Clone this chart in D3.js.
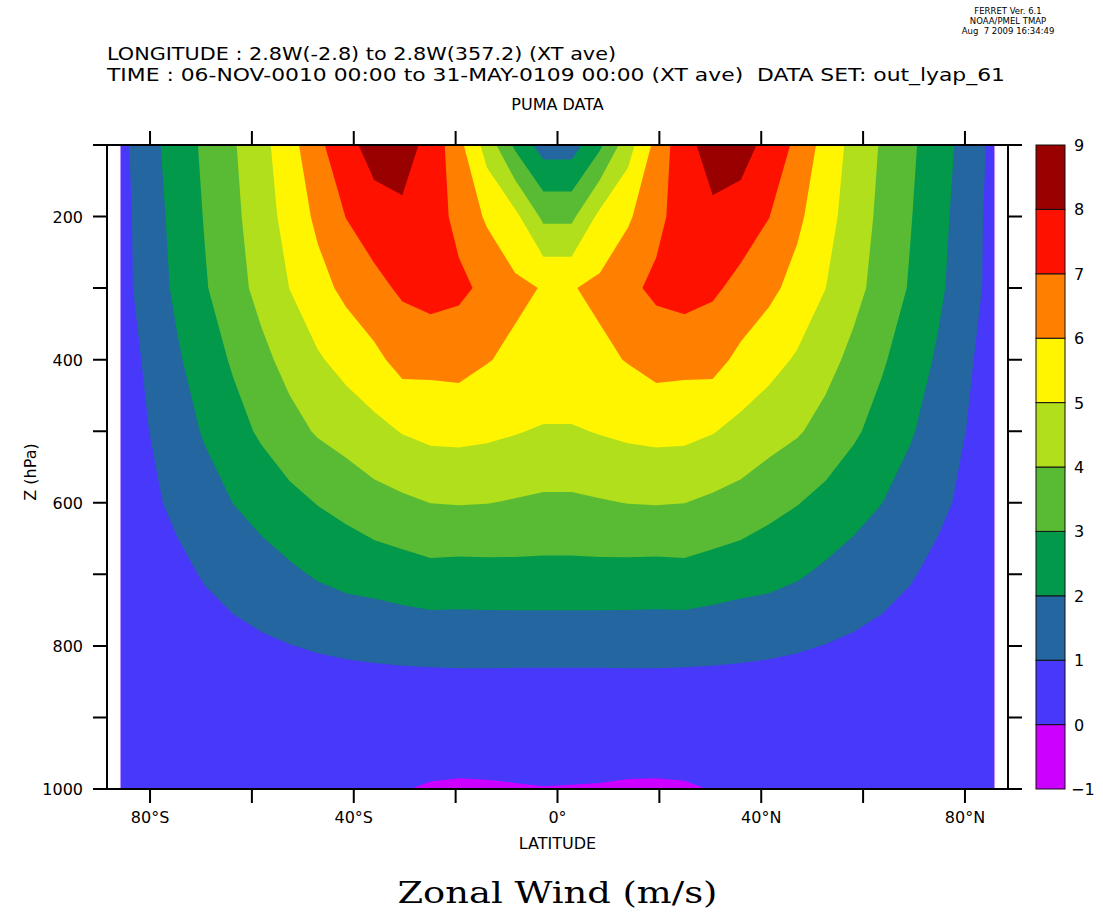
<!DOCTYPE html>
<html>
<head>
<meta charset="utf-8">
<script src="https://cdn.jsdelivr.net/npm/d3@7"></script>
<style>
  body { margin: 0; background: #fff; }
  svg { display: block; }
  text { font-family: "DejaVu Sans", sans-serif; fill: #000; }
</style>
</head>
<body>
<svg id="chart" width="1103" height="916"></svg>
<script>
// Gaussian latitudes of the model grid (south -> north)
var latitudes = [-85.76, -80.27, -74.75, -69.21, -63.68, -58.14, -52.61, -47.07,
  -41.53, -36.00, -30.46, -24.92, -19.38, -13.84, -8.31, -2.77,
  2.77, 8.31, 13.84, 19.38, 24.92, 30.46, 36.00, 41.53,
  47.07, 52.61, 58.14, 63.68, 69.21, 74.75, 80.27, 85.76];
var pressureLevels = [100, 200, 300, 400, 500, 600, 700, 800, 900, 1000];

// values along each pressure level, same order as latitudes
var u100 = [0.7, 1.7, 2.4, 3.2, 3.9, 4.7, 5.6, 6.8, 7.6, 8.5, 8.4, 7.7, 6.3, 4.6, 2.8, 1.55,
  1.55, 2.8, 4.6, 6.3, 7.7, 8.4, 8.5, 7.6, 6.8, 5.6, 4.7, 3.9, 3.2, 2.4, 1.7, 0.7];
var u200 = [0.65, 1.52, 2.32, 3.06, 3.77, 4.53, 5.36, 6.21, 7.02, 7.48, 7.83, 7.5, 6.72, 5.86, 5.25, 3.78,
  3.78, 5.25, 5.86, 6.72, 7.5, 7.83, 7.48, 7.02, 6.21, 5.36, 4.53, 3.77, 3.06, 2.32, 1.52, 0.65];
var u300 = [0.67, 1.43, 2.19, 2.92, 3.61, 4.31, 5.01, 5.66, 6.24, 6.74, 7.15, 7.4, 7.21, 6.78, 6.2, 5.95,
  5.95, 6.2, 6.78, 7.21, 7.4, 7.15, 6.74, 6.24, 5.66, 5.01, 4.31, 3.61, 2.92, 2.19, 1.43, 0.67];
var u400 = [0.5, 1.18, 1.87, 2.5, 3.12, 3.74, 4.33, 4.89, 5.33, 5.75, 6.35, 6.3, 6.35, 6.05, 5.8, 5.9,
  5.9, 5.8, 6.05, 6.35, 6.3, 6.35, 5.75, 5.33, 4.89, 4.33, 3.74, 3.12, 2.5, 1.87, 1.18, 0.5];
var u500 = [0.48, 0.99, 1.56, 2.1, 2.63, 3.15, 3.66, 4.1, 4.41, 4.72, 5.05, 5.25, 5.28, 5.2, 5.06, 4.9,
  4.9, 5.06, 5.2, 5.28, 5.25, 5.05, 4.72, 4.41, 4.1, 3.66, 3.15, 2.63, 2.1, 1.56, 0.99, 0.48];
var u600 = [0.4, 0.8, 1.2, 1.6, 2.01, 2.36, 2.71, 3.04, 3.3, 3.65, 3.83, 4.01, 4.05, 4.02, 3.93, 3.84,
  3.84, 3.93, 4.02, 4.05, 4.01, 3.83, 3.65, 3.3, 3.04, 2.71, 2.36, 2.01, 1.6, 1.2, 0.8, 0.4];
var u700 = [0.34, 0.58, 0.77, 1.08, 1.34, 1.58, 1.83, 2.1, 2.3, 2.4, 2.55, 2.7, 2.65, 2.68, 2.7, 2.7,
  2.7, 2.7, 2.68, 2.65, 2.7, 2.55, 2.4, 2.3, 2.1, 1.83, 1.58, 1.34, 1.08, 0.77, 0.58, 0.34];
var u800 = [0.25, 0.4, 0.5, 0.58, 0.73, 0.86, 0.98, 1.08, 1.16, 1.22, 1.27, 1.3, 1.32, 1.32, 1.31, 1.31,
  1.31, 1.31, 1.32, 1.32, 1.3, 1.27, 1.22, 1.16, 1.08, 0.98, 0.86, 0.73, 0.58, 0.5, 0.4, 0.25];
var u900 = [0.22, 0.28, 0.3, 0.32, 0.33, 0.33, 0.32, 0.3, 0.3, 0.3, 0.3, 0.3, 0.3, 0.3, 0.3, 0.3,
  0.3, 0.3, 0.3, 0.3, 0.3, 0.3, 0.3, 0.3, 0.3, 0.32, 0.33, 0.33, 0.32, 0.3, 0.28, 0.22];
var u1000 = [0.15, 0.16, 0.15, 0.13, 0.11, 0.09, 0.07, 0.05, 0.035, 0.02, 0.013, -0.035, -0.053, -0.045, -0.028, -0.012,
  -0.019, -0.028, -0.049, -0.053, -0.039, 0.01, 0.02, 0.035, 0.05, 0.07, 0.09, 0.11, 0.13, 0.15, 0.16, 0.15];

var bandLevels = [-1, 0, 1, 2, 3, 4, 5, 6, 7, 8, 9];
var bandColors = ["#cc00ff", "#4838fa", "#2366a0", "#029a4a", "#59bb33",
  "#b2df1b", "#fff500", "#ff8000", "#ff1100", "#990000"];
var latTicks = [-80, -60, -40, -20, 0, 20, 40, 60, 80];
var latLabels = ["80°S", "", "40°S", "", "0°", "", "40°N", "", "80°N"];
var pressureTicks = [100, 200, 300, 400, 500, 600, 700, 800, 900, 1000];
var pressureLabels = ["", "200", "", "400", "", "600", "", "800", "", "1000"];

var svg = d3.select("#chart");

// note: "top" is reserved on window, so use plot* names
var plotL = 107, plotR = 1008, plotT = 145, plotB = 789;
var x = d3.scaleLinear().domain([-88.45, 88.45]).range([plotL, plotR]);
var y = d3.scaleLinear().domain([100, 1000]).range([plotT, plotB]);

// ---- filled contours ----
var rows = [u100, u200, u300, u400, u500, u600, u700, u800, u900, u1000];
var nx = latitudes.length, ny = pressureLevels.length;
var values = [];
rows.forEach(function(r) { r.forEach(function(v) { values.push(v); }); });

var gridLat = d3.scaleLinear().domain(d3.range(nx)).range(latitudes).clamp(true);
var gridLev = d3.scaleLinear().domain(d3.range(ny)).range(pressureLevels).clamp(true);
var toScreen = d3.geoTransform({
  point: function(px, py) {
    this.stream.point(x(gridLat(px - 0.5)), y(gridLev(py - 0.5)));
  }
});
var path = d3.geoPath(toScreen);

var contours = d3.contours()
  .size([nx, ny])
  .thresholds(bandLevels.slice(0, -1))(values);

svg.append("g")
  .selectAll("path")
  .data(contours)
  .enter().append("path")
  .attr("d", path)
  .attr("fill", function(d, i) { return bandColors[i]; })
  .attr("stroke", "none");

// ---- frame and ticks ----
var frame = svg.append("g").attr("stroke", "#000").attr("stroke-width", 2).attr("fill", "none");
frame.append("line").attr("x1", plotL - 14).attr("x2", plotR + 14).attr("y1", plotT).attr("y2", plotT);
frame.append("line").attr("x1", plotL - 14).attr("x2", plotR + 14).attr("y1", plotB).attr("y2", plotB);
frame.append("line").attr("x1", plotL).attr("x2", plotL).attr("y1", plotT).attr("y2", plotB);
frame.append("line").attr("x1", plotR).attr("x2", plotR).attr("y1", plotT).attr("y2", plotB);

frame.selectAll(".ptick")
  .data(pressureTicks.slice(1, -1))
  .enter().append("path")
  .attr("d", function(p) {
    return "M" + (plotL - 14) + "," + y(p) + "H" + plotL + "M" + plotR + "," + y(p) + "H" + (plotR + 14);
  });

frame.selectAll(".ltick")
  .data(latTicks)
  .enter().append("path")
  .attr("d", function(l) {
    return "M" + x(l) + "," + plotB + "V" + (plotB + 14) + "M" + x(l) + "," + plotT + "V" + (plotT - 14);
  });

// tick labels
svg.append("g").selectAll("text")
  .data(pressureTicks)
  .enter().append("text")
  .attr("x", 83)
  .attr("y", function(p) { return y(p) + 6; })
  .attr("text-anchor", "end")
  .attr("font-size", 16)
  .text(function(p, i) { return pressureLabels[i]; });

svg.append("g").selectAll("text")
  .data(latTicks)
  .enter().append("text")
  .attr("x", function(l) { return x(l); })
  .attr("y", 823)
  .attr("text-anchor", "middle")
  .attr("font-size", 16)
  .text(function(l, i) { return latLabels[i]; });

svg.append("text")
  .attr("x", 557.5).attr("y", 849)
  .attr("text-anchor", "middle")
  .attr("font-size", 16)
  .text("LATITUDE");

svg.append("text")
  .attr("transform", "translate(36,472) rotate(-90)")
  .attr("text-anchor", "middle")
  .attr("font-size", 16)
  .text("Z (hPa)");

// ---- colour bar ----
var cy = d3.scaleLinear().domain([-1, 9]).range([plotB, plotT]);
var bar = svg.append("g");
bar.selectAll("rect")
  .data(bandColors)
  .enter().append("rect")
  .attr("x", 1036)
  .attr("width", 29)
  .attr("y", function(c, i) { return cy(bandLevels[i + 1]); })
  .attr("height", function(c, i) { return cy(bandLevels[i]) - cy(bandLevels[i + 1]); })
  .attr("fill", function(c) { return c; })
  .attr("stroke", "#111")
  .attr("stroke-width", 1);

bar.selectAll("text")
  .data(bandLevels)
  .enter().append("text")
  .attr("x", function(v) { return v < 0 ? 1071 : 1074; })
  .attr("y", function(v) { return cy(v) + 6; })
  .attr("font-size", 16)
  .text(function(v) { return v < 0 ? "\u2212" + Math.abs(v) : v; });

// ---- titles ----
var head = svg.append("g").attr("font-size", 8.5).attr("text-anchor", "middle");
head.append("text").attr("x", 1008).attr("y", 14).text("FERRET Ver. 6.1");
head.append("text").attr("x", 1008).attr("y", 24).text("NOAA/PMEL TMAP");
head.append("text").attr("x", 1008).attr("y", 34).style("white-space", "pre").text("Aug  7 2009 16:34:49");

svg.append("text")
  .attr("x", 107).attr("y", 60)
  .attr("font-size", 17)
  .attr("textLength", 509).attr("lengthAdjust", "spacingAndGlyphs")
  .text("LONGITUDE : 2.8W(-2.8) to 2.8W(357.2) (XT ave)");

svg.append("text")
  .attr("x", 107).attr("y", 81)
  .attr("font-size", 17)
  .style("white-space", "pre")
  .attr("textLength", 898).attr("lengthAdjust", "spacingAndGlyphs")
  .text("TIME : 06-NOV-0010 00:00 to 31-MAY-0109 00:00 (XT ave)  DATA SET: out_lyap_61");

svg.append("text")
  .attr("x", 557.5).attr("y", 110)
  .attr("text-anchor", "middle")
  .attr("font-size", 16)
  .text("PUMA DATA");

svg.append("text")
  .attr("x", 557.5).attr("y", 903)
  .attr("text-anchor", "middle")
  .style("font-family", "'DejaVu Serif', serif")
  .attr("font-size", 30)
  .attr("textLength", 320).attr("lengthAdjust", "spacingAndGlyphs")
  .text("Zonal Wind (m/s)");
</script>
</body>
</html>
